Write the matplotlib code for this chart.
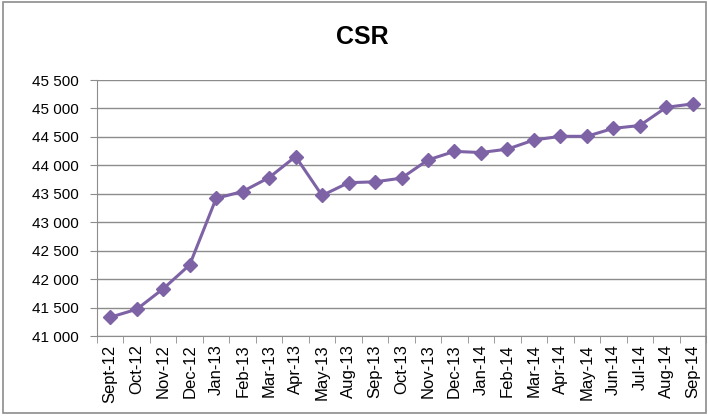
import matplotlib.pyplot as plt
from matplotlib.patches import Rectangle
from matplotlib.ticker import FixedLocator, FuncFormatter

months = ["Sept-12", "Oct-12", "Nov-12", "Dec-12", "Jan-13", "Feb-13", "Mar-13",
          "Apr-13", "May-13", "Aug-13", "Sep-13", "Oct-13", "Nov-13", "Dec-13",
          "Jan-14", "Feb-14", "Mar-14", "Apr-14", "May-14", "Jun-14", "Jul-14",
          "Aug-14", "Sep-14"]
csr = [41330, 41470, 41830, 42250, 43420, 43540, 43785, 44155, 43470, 43695,
       43710, 43775, 44095, 44245, 44225, 44285, 44445, 44510, 44510, 44650,
       44700, 45020, 45080]
y_ticks = [41000, 41500, 42000, 42500, 43000, 43500, 44000, 44500, 45000, 45500]

plt.rcParams['font.family'] = ['Liberation Sans', 'DejaVu Sans']

fig = plt.figure(figsize=(7.08, 4.16), dpi=100)
ax = fig.add_axes([97 / 708, 1 - 336 / 416, 609 / 708, 256 / 416])

x = range(len(months))
ax.plot(x, csr, color='#7E62A6', linewidth=2.2, marker='D', markersize=7,
        markeredgecolor='#7E62A6', markerfacecolor='#7E62A6', zorder=3)

ax.set_xlim(-0.5, len(months) - 0.5)
ax.set_ylim(y_ticks[0], y_ticks[-1])
ax.set_yticks(y_ticks)
ax.yaxis.set_major_formatter(FuncFormatter(lambda v, p: f"{int(v):,}".replace(",", " ")))
ax.grid(axis='y', color='#8C8C8C', linewidth=1)
ax.set_axisbelow(True)

ax.set_xticks(list(x))
ax.set_xticklabels(months, rotation=90, fontsize=12)
ax.xaxis.set_minor_locator(FixedLocator([i - 0.5 for i in range(len(months) + 1)]))
ax.tick_params(axis='x', which='major', length=0, pad=6)
ax.tick_params(axis='x', which='minor', length=5, color='#8C8C8C')
ax.tick_params(axis='y', length=5, color='#8C8C8C', labelsize=11, pad=8)

for side in ['top', 'right']:
    ax.spines[side].set_visible(False)
for side in ['left', 'bottom']:
    ax.spines[side].set_color('#8C8C8C')

fig.text(362 / 708, 1 - 37 / 416, "CSR", ha='center', va='center',
         fontsize=18, fontweight='bold')

fig.patches.append(Rectangle((3 / 708, 3 / 416), 703 / 708, 411 / 416,
                             transform=fig.transFigure, fill=False,
                             edgecolor='#8C8C8C', linewidth=1.2))

fig.savefig("out.png", dpi=100, facecolor='white')
